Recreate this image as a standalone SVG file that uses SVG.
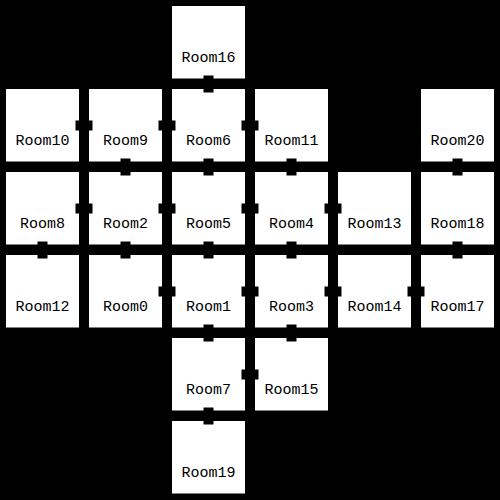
<svg xmlns="http://www.w3.org/2000/svg" width="500" height="500" viewBox="0 0 500 500">
<style>
.room rect{fill:#fff}
.room text{font-family:"Liberation Mono","DejaVu Sans Mono",monospace;font-size:15px;fill:#000;text-anchor:middle}
.door{fill:#000}
</style>
<rect x="0" y="0" width="500" height="500" fill="#000"/>
<g id="Room16" class="room"><rect x="172" y="6" width="73" height="72.5"/><text x="208.5" y="61.5">Room16</text></g>
<g id="Room10" class="room"><rect x="6" y="89" width="73" height="72.5"/><text x="42.5" y="144.5">Room10</text></g>
<g id="Room9" class="room"><rect x="89" y="89" width="73" height="72.5"/><text x="125.5" y="144.5">Room9</text></g>
<g id="Room6" class="room"><rect x="172" y="89" width="73" height="72.5"/><text x="208.5" y="144.5">Room6</text></g>
<g id="Room11" class="room"><rect x="255" y="89" width="73" height="72.5"/><text x="291.5" y="144.5">Room11</text></g>
<g id="Room20" class="room"><rect x="421" y="89" width="73" height="72.5"/><text x="457.5" y="144.5">Room20</text></g>
<g id="Room8" class="room"><rect x="6" y="172" width="73" height="72.5"/><text x="42.5" y="227.5">Room8</text></g>
<g id="Room2" class="room"><rect x="89" y="172" width="73" height="72.5"/><text x="125.5" y="227.5">Room2</text></g>
<g id="Room5" class="room"><rect x="172" y="172" width="73" height="72.5"/><text x="208.5" y="227.5">Room5</text></g>
<g id="Room4" class="room"><rect x="255" y="172" width="73" height="72.5"/><text x="291.5" y="227.5">Room4</text></g>
<g id="Room13" class="room"><rect x="338" y="172" width="73" height="72.5"/><text x="374.5" y="227.5">Room13</text></g>
<g id="Room18" class="room"><rect x="421" y="172" width="73" height="72.5"/><text x="457.5" y="227.5">Room18</text></g>
<g id="Room12" class="room"><rect x="6" y="255" width="73" height="72.5"/><text x="42.5" y="310.5">Room12</text></g>
<g id="Room0" class="room"><rect x="89" y="255" width="73" height="72.5"/><text x="125.5" y="310.5">Room0</text></g>
<g id="Room1" class="room"><rect x="172" y="255" width="73" height="72.5"/><text x="208.5" y="310.5">Room1</text></g>
<g id="Room3" class="room"><rect x="255" y="255" width="73" height="72.5"/><text x="291.5" y="310.5">Room3</text></g>
<g id="Room14" class="room"><rect x="338" y="255" width="73" height="72.5"/><text x="374.5" y="310.5">Room14</text></g>
<g id="Room17" class="room"><rect x="421" y="255" width="73" height="72.5"/><text x="457.5" y="310.5">Room17</text></g>
<g id="Room7" class="room"><rect x="172" y="338" width="73" height="72.5"/><text x="208.5" y="393.5">Room7</text></g>
<g id="Room15" class="room"><rect x="255" y="338" width="73" height="72.5"/><text x="291.5" y="393.5">Room15</text></g>
<g id="Room19" class="room"><rect x="172" y="421" width="73" height="72.5"/><text x="208.5" y="476.5">Room19</text></g>
<g id="connectors" class="door">
<!-- horizontal doors -->
<rect x="75.5" y="120.5" width="17" height="10"/>
<rect x="158.5" y="120.5" width="17" height="10"/>
<rect x="241.5" y="120.5" width="17" height="10"/>
<rect x="75.5" y="203.5" width="17" height="10"/>
<rect x="158.5" y="203.5" width="17" height="10"/>
<rect x="241.5" y="203.5" width="17" height="10"/>
<rect x="324.5" y="203.5" width="17" height="10"/>
<rect x="158.5" y="286.5" width="17" height="10"/>
<rect x="241.5" y="286.5" width="17" height="10"/>
<rect x="324.5" y="286.5" width="17" height="10"/>
<rect x="407.5" y="286.5" width="17" height="10"/>
<rect x="241.5" y="369.5" width="17" height="10"/>
<!-- vertical doors -->
<rect x="203.5" y="75.5" width="10" height="17"/>
<rect x="120.5" y="158.5" width="10" height="17"/>
<rect x="203.5" y="158.5" width="10" height="17"/>
<rect x="286.5" y="158.5" width="10" height="17"/>
<rect x="452.5" y="158.5" width="10" height="17"/>
<rect x="37.5" y="241.5" width="10" height="17"/>
<rect x="120.5" y="241.5" width="10" height="17"/>
<rect x="203.5" y="241.5" width="10" height="17"/>
<rect x="286.5" y="241.5" width="10" height="17"/>
<rect x="452.5" y="241.5" width="10" height="17"/>
<rect x="203.5" y="324.5" width="10" height="17"/>
<rect x="286.5" y="324.5" width="10" height="17"/>
<rect x="203.5" y="407.5" width="10" height="17"/>
</g>
</svg>
